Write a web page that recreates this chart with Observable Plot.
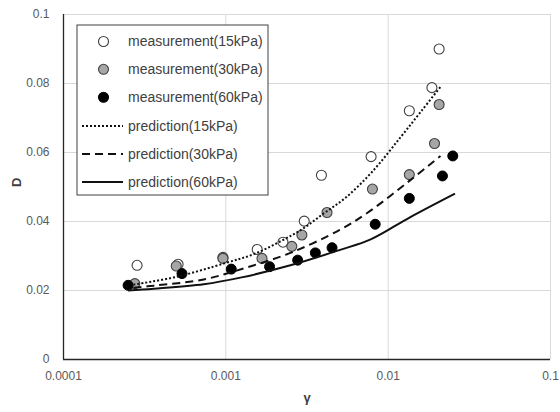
<!DOCTYPE html>
<html>
<head>
<meta charset="utf-8">
<script src="https://cdn.jsdelivr.net/npm/d3@7"></script>
<script src="https://cdn.jsdelivr.net/npm/@observablehq/plot@0.6"></script>
<style>
  html, body { margin: 0; padding: 0; background: #fff; }
  #chart { width: 560px; height: 412px; }
</style>
</head>
<body>
<div id="chart"></div>
<script>
// Measurements
const gamma15 = [0.000284, 0.000508, 0.00096, 0.00156, 0.00225, 0.00304, 0.00388, 0.00785, 0.0135, 0.0186, 0.0206];
const D15     = [0.0273,   0.0276,   0.0296,  0.0319,  0.0340,  0.0401,  0.0534,  0.0588,  0.0721, 0.0788, 0.0900];

const gamma30 = [0.000275, 0.000495, 0.00096, 0.00167, 0.00255, 0.00294, 0.0042, 0.0080, 0.0135, 0.0193, 0.0206];
const D30     = [0.0220,   0.0271,   0.0293,  0.0293,  0.0328,  0.0361,  0.0426, 0.0494, 0.0536, 0.0626, 0.0739];

const gamma60 = [0.00025, 0.000537, 0.00108, 0.00186, 0.00277, 0.00356, 0.00451, 0.00832, 0.0135, 0.0216, 0.0250];
const D60     = [0.0215,  0.0249,   0.0262,  0.0269,  0.0288,  0.0309,  0.0324,  0.0392,  0.0467, 0.0532, 0.0590];

// Predictions
const gammaP15 = [0.00027, 0.0005, 0.001, 0.0015, 0.0022, 0.003, 0.004, 0.0055, 0.008, 0.012, 0.016, 0.021];
const DP15     = [0.0217,  0.0240, 0.0280, 0.0306, 0.0344, 0.0380, 0.0423, 0.0470, 0.0545, 0.0646, 0.0720, 0.0790];

const gammaP30 = [0.00027, 0.00036, 0.00073, 0.00135, 0.0025, 0.005, 0.0075, 0.0137, 0.021];
const DP30     = [0.0208,  0.0214,  0.0232,  0.0267,  0.0309, 0.0375, 0.0426, 0.0520, 0.0590];

const gammaP60 = [0.00025, 0.00036, 0.00073, 0.00125, 0.0025, 0.005, 0.0078, 0.0137, 0.0258];
const DP60     = [0.0200,  0.0205,  0.0218,  0.0238,  0.0273, 0.0317, 0.0348, 0.0413, 0.0481];

const xTicks = [0.0001, 0.001, 0.01, 0.1];
const xTickLabels = ["0.0001", "0.001", "0.01", "0.1"];
const yTicks = [0, 0.02, 0.04, 0.06, 0.08, 0.1];
const yTickLabels = ["0", "0.02", "0.04", "0.06", "0.08", "0.1"];

const legendLabels = ["measurement(15kPa)", "measurement(30kPa)", "measurement(60kPa)",
                      "prediction(15kPa)", "prediction(30kPa)", "prediction(60kPa)"];

const zip = (xs, ys) => xs.map((x, i) => ({x, y: ys[i]}));
const m15 = zip(gamma15, D15), m30 = zip(gamma30, D30), m60 = zip(gamma60, D60);
const p15 = zip(gammaP15, DP15), p30 = zip(gammaP30, DP30), p60 = zip(gammaP60, DP60);

const FONT = "'Liberation Sans', Arial, sans-serif";
const dotted = "2,2", dashed = "8,5";
const lineOpts = { x: "x", y: "y", curve: "catmull-rom", stroke: "#111", strokeWidth: 2, strokeLinecap: "butt" };

const chart = Plot.plot({
  width: 560,
  height: 412,
  marginLeft: 63,
  marginRight: 10,
  marginTop: 14,
  marginBottom: 53,
  style: { fontFamily: FONT, background: "#fff" },
  x: { type: "log", domain: [0.0001, 0.1] },
  y: { domain: [0, 0.1] },
  marks: [
    Plot.gridX(xTicks, { stroke: "#d9d9d9", strokeOpacity: 1 }),
    Plot.gridY(yTicks, { stroke: "#d9d9d9", strokeOpacity: 1 }),
    Plot.ruleX([0.0001], { stroke: "#262626", strokeWidth: 1.3 }),
    Plot.ruleY([0], { stroke: "#262626", strokeWidth: 1.3 }),
    Plot.axisX(xTicks, {
      tickSize: 0, tickPadding: 12, fontSize: 12, fill: "#595959",
      tickFormat: d => xTickLabels[xTicks.indexOf(d)], label: null
    }),
    Plot.axisY(yTicks, {
      tickSize: 0, tickPadding: 14, fontSize: 12, fill: "#595959",
      tickFormat: d => yTickLabels[yTicks.indexOf(d)], label: null
    }),
    Plot.dot(m15, { x: "x", y: "y", r: 5, fill: "white", stroke: "#404040", strokeWidth: 1.1 }),
    Plot.dot(m30, { x: "x", y: "y", r: 5, fill: "#a6a6a6", stroke: "#404040", strokeWidth: 1.1 }),
    Plot.dot(m60, { x: "x", y: "y", r: 5, fill: "black", stroke: "black", strokeWidth: 1 }),
    Plot.line(p15, { ...lineOpts, strokeDasharray: dotted }),
    Plot.line(p30, { ...lineOpts, strokeDasharray: dashed }),
    Plot.line(p60, lineOpts),
    Plot.text(["D"], { frameAnchor: "left", dx: -47, rotate: -90, fontWeight: "bold", fontSize: 13, fill: "#404040" }),
    Plot.text(["γ"], { frameAnchor: "bottom", dy: 42, fontWeight: "bold", fontSize: 13, fill: "#404040" })
  ]
});

// Legend inside the plot area (top-left)
const svg = d3.select(chart);
const lg = svg.append("g").attr("font-family", FONT).attr("text-anchor", "start");
lg.append("rect").attr("x", 77).attr("y", 25).attr("width", 191).attr("height", 170)
  .attr("fill", "white").attr("stroke", "#404040").attr("stroke-width", 1);
const rowY = [41.5, 69.3, 97.3, 126, 154, 182];
const markerFill = ["white", "#a6a6a6", "black"];
const markerStroke = ["#404040", "#404040", "black"];
const dashes = [dotted, dashed, null];
legendLabels.forEach((lab, i) => {
  const y = rowY[i];
  if (i < 3) {
    lg.append("circle").attr("cx", 103.5).attr("cy", y).attr("r", 5)
      .attr("fill", markerFill[i]).attr("stroke", markerStroke[i]).attr("stroke-width", 1.1);
  } else {
    const l = lg.append("line").attr("x1", 82).attr("x2", 123).attr("y1", y).attr("y2", y)
      .attr("stroke", "#111").attr("stroke-width", 2).attr("stroke-linecap", "butt");
    if (dashes[i - 3]) l.attr("stroke-dasharray", dashes[i - 3]);
  }
  lg.append("text").attr("x", 128).attr("y", y).attr("dy", "0.35em")
    .attr("font-size", 14).attr("fill", "#404040").attr("text-anchor", "start").text(lab);
});

document.getElementById("chart").appendChild(chart);
</script>
</body>
</html>
